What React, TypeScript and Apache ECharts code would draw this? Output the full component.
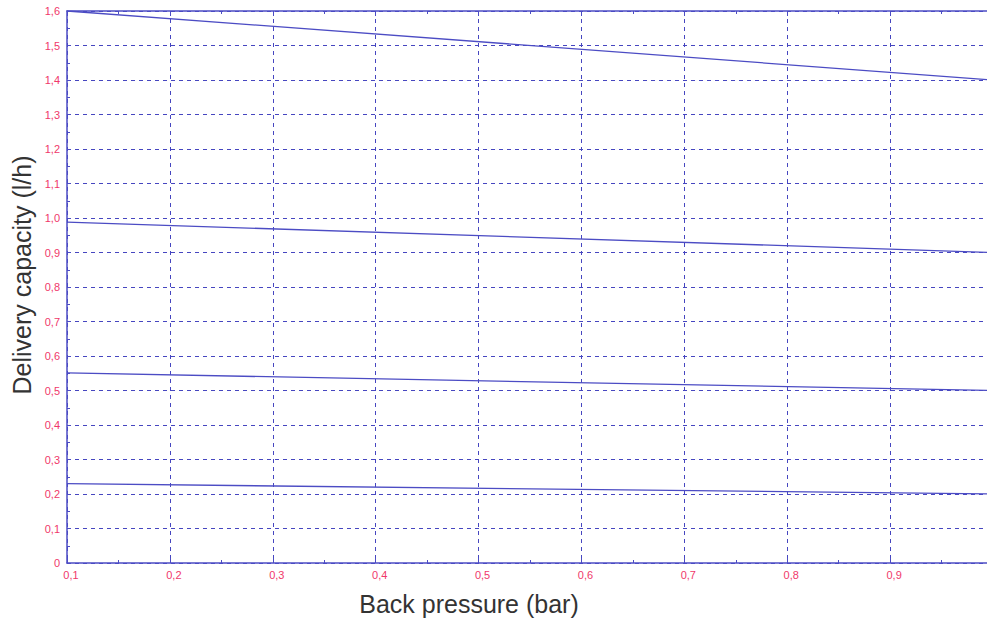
import React, { useEffect, useRef } from "react";
import * as echarts from "echarts";

const xTicks = [0.1, 0.2, 0.3, 0.4, 0.5, 0.6, 0.7, 0.8, 0.9, 1.0];
const pressure = [0.1, 1.0];
const curve1 = [1.6, 1.4];
const curve2 = [0.988, 0.9];
const curve3 = [0.551, 0.5];
const curve4 = [0.23, 0.2];
const curves = [curve1, curve2, curve3, curve4];
const xTitle = "Back pressure (bar)";
const yTitle = "Delivery capacity (l/h)";

const LINE = "#4c4cc4";
const GRID = "#4646c0";
const LABEL = "#f0386a";

const fmt = (v: number) => (v === 0 ? "0" : v.toFixed(1).replace(".", ","));

export default function App() {
  const ref = useRef<HTMLDivElement>(null);
  useEffect(() => {
    if (!ref.current) return;
    const chart = echarts.init(ref.current, null, { renderer: "svg" });
    chart.setOption({
      animation: false,
      backgroundColor: "#ffffff",
      grid: {
        left: 67,
        top: 11,
        height: 552,
        width: 926,
        containLabel: false,
        outerBoundsMode: "none",
      },
      xAxis: [
        {
          type: "value",
          min: xTicks[0],
          max: xTicks[xTicks.length - 1],
          interval: 0.1,
          axisLine: { show: true, lineStyle: { color: LINE, width: 1.5 } },
          axisTick: { show: true, inside: true, length: 5, lineStyle: { color: LINE } },
          minorTick: { show: true, splitNumber: 2, length: 3, lineStyle: { color: LINE } },
          axisLabel: {
            color: LABEL,
            fontSize: 11,
            fontFamily: "Liberation Sans",
            margin: 6,
            padding: [0, 0, 0, 8],
            formatter: (v: number) => (v > 0.95 ? "" : fmt(v)),
          },
          splitLine: {
            show: true,
            lineStyle: { color: GRID, type: [4, 4], width: 1 },
          },
        },
        {
          type: "value",
          position: "top",
          min: xTicks[0],
          max: xTicks[xTicks.length - 1],
          interval: 0.1,
          axisLine: { show: true, onZero: false, lineStyle: { color: LINE, width: 1.5 } },
          axisTick: { show: true, inside: true, length: 5, lineStyle: { color: LINE } },
          minorTick: { show: true, splitNumber: 2, length: 3, lineStyle: { color: LINE } },
          axisLabel: { show: false },
          splitLine: { show: false },
        },
      ],
      yAxis: {
        type: "value",
        min: 0,
        max: 1.6,
        interval: 0.1,
        axisLine: { show: true, lineStyle: { color: LINE, width: 1.5 } },
        axisTick: { show: true, inside: true, length: 4, lineStyle: { color: LINE } },
        minorTick: { show: true, splitNumber: 2, length: 3, lineStyle: { color: LINE } },
        axisLabel: {
          color: LABEL,
          fontSize: 11,
          fontFamily: "Liberation Sans",
          margin: 7,
          formatter: (v: number) => fmt(v),
        },
        splitLine: {
          show: true,
          lineStyle: { color: GRID, type: [4, 4], width: 1 },
        },
      },
      series: curves.map((c) => ({
        type: "line",
        xAxisIndex: 0,
        data: pressure.map((x, i) => [x, c[i]]),
        showSymbol: false,
        lineStyle: { color: LINE, width: 1.3 },
        z: 5,
      })),
      graphic: [
        {
          type: "text",
          x: 469,
          y: 604,
          style: {
            text: xTitle,
            fill: "#333333",
            fontSize: 25,
            fontFamily: "Liberation Sans",
            align: "center",
            verticalAlign: "middle",
          },
        },
        {
          type: "text",
          x: 22,
          y: 275,
          rotation: Math.PI / 2,
          style: {
            text: yTitle,
            fill: "#333333",
            fontSize: 25,
            fontFamily: "Liberation Sans",
            align: "center",
            verticalAlign: "middle",
          },
        },
      ],
    });
    return () => chart.dispose();
  }, []);
  return <div ref={ref} style={{ width: 987, height: 621, position: "absolute", left: 0, top: 0 }} />;
}
